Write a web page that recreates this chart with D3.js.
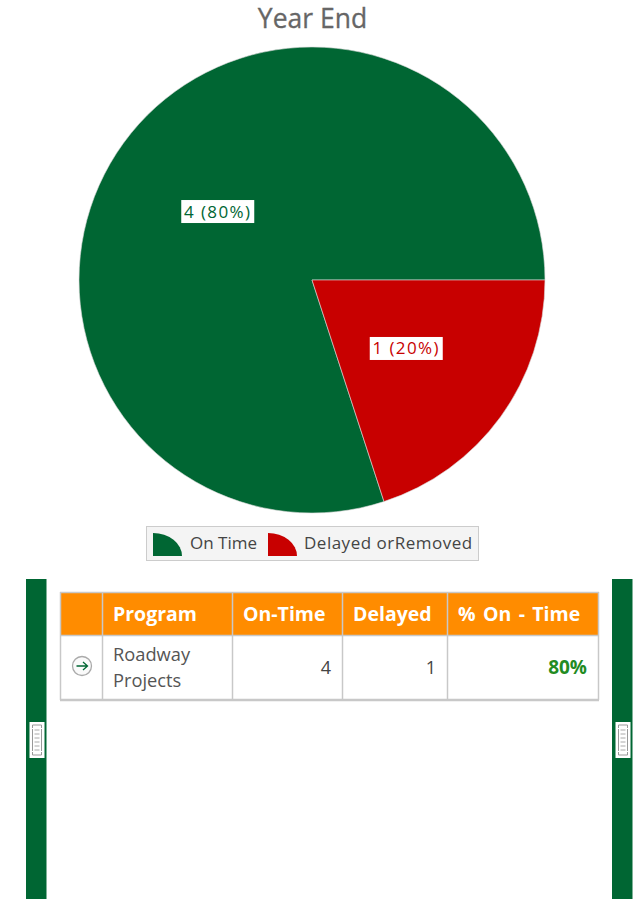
<!DOCTYPE html>
<html>
<head>
<meta charset="utf-8">
<title>Year End</title>
<script src="https://cdn.jsdelivr.net/npm/d3@7"></script>
<style>
	html, body { margin: 0; padding: 0; background: #fff; overflow: hidden; }
	svg { display: block; }
	text { font-family: "Open Sans", "Noto Sans", sans-serif; }
</style>
</head>
<body>
<svg id="chart" width="641" height="899"></svg>
<script>
// the data
const categories = ['On Time', 'Delayed orRemoved'];
const values = [4, 1];
const percents = ['80%', '20%'];
const colors = ['#006633', '#c80000'];

// the table under the pie
const columns = ['', 'Program', 'On-Time', 'Delayed', '% On - Time'];
const programLines = ['Roadway', 'Projects'];
const onTimeCell = '4';
const delayedCell = '1';
const percentCell = '80%';

const svg = d3.select('#chart');

// title
svg.append('text')
	.attr('x', 312.5).attr('y', 28)
	.attr('text-anchor', 'middle')
	.attr('font-size', 26.5)
	.attr('fill', '#666')
	.attr('stroke', '#666')
	.attr('stroke-width', 0.3)
	.text('Year End');

// pie, starts so the red slice begins at 3 o'clock
const pie = d3.pie().sort(null)
	.startAngle(0.9 * Math.PI)
	.endAngle(2.9 * Math.PI);
const arc = d3.arc().innerRadius(0).outerRadius(233);
const pieG = svg.append('g').attr('transform', 'translate(312,280)');
const slices = pie(values);

pieG.selectAll('path')
	.data(slices)
	.enter()
	.append('path')
	.attr('d', arc)
	.attr('fill', (d, i) => colors[i])
	.attr('stroke', '#d8d8d8')
	.attr('stroke-width', 0.6);

// slice labels
const labels = pieG.selectAll('g.label')
	.data(slices)
	.enter()
	.append('g')
	.attr('class', 'label')
	.attr('transform', (d) => `translate(${arc.centroid(d)})`);
labels.append('rect')
	.attr('x', -36.5).attr('y', -11.5)
	.attr('width', 73).attr('height', 23)
	.attr('fill', '#fff');
labels.append('text')
	.attr('text-anchor', 'middle')
	.attr('y', 6)
	.attr('font-size', 17)
	.attr('letter-spacing', 1.4)
	.attr('fill', (d, i) => colors[i])
	.text((d, i) => `${values[i]} (${percents[i]})`);

// legend
svg.append('rect')
	.attr('x', 146.5).attr('y', 526.5)
	.attr('width', 332).attr('height', 34)
	.attr('fill', '#f4f4f4')
	.attr('stroke', '#ccc');

const legendIcon = d3.arc().innerRadius(0).outerRadius(1).startAngle(0).endAngle(Math.PI / 2);
const legendIconX = [153, 268];
const legendTextX = [190, 304];
const legendSpacing = [0, 0.5];
categories.forEach((c, i) => {
	svg.append('path')
		.attr('d', legendIcon())
		.attr('transform', `translate(${legendIconX[i]},556) scale(29,23)`)
		.attr('fill', colors[i]);
	svg.append('text')
		.attr('x', legendTextX[i]).attr('y', 549)
		.attr('font-size', 17)
		.attr('letter-spacing', legendSpacing[i])
		.attr('fill', '#444')
		.text(c);
});

// green side bars and their handles
const barX = [26, 612];
svg.selectAll('rect.side')
	.data(barX)
	.enter()
	.append('rect')
	.attr('class', 'side')
	.attr('x', (d) => d).attr('y', 579)
	.attr('width', 20.5).attr('height', 320)
	.attr('fill', '#006633');

const rungs = d3.range(6);
barX.forEach((x) => {
	const h = svg.append('g').attr('transform', `translate(${x + 3.5},722)`);
	h.append('rect').attr('width', 15).attr('height', 36).attr('fill', '#fff');
	h.append('path')
		.attr('d', 'M3,6V3H12V6M3,30V33H12V30M3,7V29M12,7V29')
		.attr('fill', 'none').attr('stroke', '#999');
	h.selectAll('line')
		.data(rungs)
		.enter()
		.append('line')
		.attr('x1', 5).attr('x2', 10)
		.attr('y1', (d) => 8 + d * 4).attr('y2', (d) => 8 + d * 4)
		.attr('stroke', '#aaa');
});

// table
const colEdges = [60, 102, 232, 342, 447, 598];
const headTop = 592, headBottom = 635, tableBottom = 700;
const border = '#c8c8c8';

svg.append('rect')
	.attr('x', colEdges[0]).attr('y', headTop)
	.attr('width', colEdges[5] - colEdges[0]).attr('height', headBottom - headTop)
	.attr('fill', '#ff8c00');

svg.selectAll('text.head')
	.data(columns)
	.enter()
	.append('text')
	.attr('class', 'head')
	.attr('x', (d, i) => colEdges[i] + 11)
	.attr('y', 621)
	.attr('font-size', 19.5)
	.attr('font-weight', 700)
	.attr('word-spacing', 2.3)
	.attr('fill', '#fff')
	.text((d) => d);

svg.selectAll('line.col')
	.data(colEdges)
	.enter()
	.append('line')
	.attr('class', 'col')
	.attr('x1', (d) => d + 0.5).attr('x2', (d) => d + 0.5)
	.attr('y1', headTop).attr('y2', tableBottom)
	.attr('stroke', border).attr('stroke-width', 1.5);

[headTop, headBottom].forEach((y) => {
	svg.append('line')
		.attr('x1', colEdges[0]).attr('x2', colEdges[5] + 1)
		.attr('y1', y + 0.5).attr('y2', y + 0.5)
		.attr('stroke', border).attr('stroke-width', 1.5);
});
svg.append('line')
	.attr('x1', colEdges[0]).attr('x2', colEdges[5] + 1)
	.attr('y1', tableBottom).attr('y2', tableBottom)
	.attr('stroke', border).attr('stroke-width', 2.5);

// row: arrow icon
const icon = svg.append('g').attr('transform', 'translate(82,666)');
icon.append('circle').attr('r', 9.5).attr('fill', '#fafafa').attr('stroke', '#aaa').attr('stroke-width', 1.3);
icon.append('path')
	.attr('d', 'M-5.5,0H5M1,-4L5.5,0L1,4')
	.attr('fill', 'none').attr('stroke', '#006633').attr('stroke-width', 1.3);

// row: program name
svg.selectAll('text.program')
	.data(programLines)
	.enter()
	.append('text')
	.attr('class', 'program')
	.attr('x', 113)
	.attr('y', (d, i) => 661 + i * 26)
	.attr('font-size', 18.3)
	.attr('fill', '#555')
	.text((d) => d);

// row: numbers
svg.append('text')
	.attr('x', 331).attr('y', 674)
	.attr('text-anchor', 'end')
	.attr('font-size', 18).attr('fill', '#444')
	.text(onTimeCell);
svg.append('text')
	.attr('x', 436).attr('y', 674)
	.attr('text-anchor', 'end')
	.attr('font-size', 18).attr('fill', '#444')
	.text(delayedCell);
svg.append('text')
	.attr('x', 587).attr('y', 674)
	.attr('text-anchor', 'end')
	.attr('font-size', 19).attr('font-weight', 700)
	.attr('fill', '#228b22')
	.text(percentCell);
</script>
</body>
</html>
